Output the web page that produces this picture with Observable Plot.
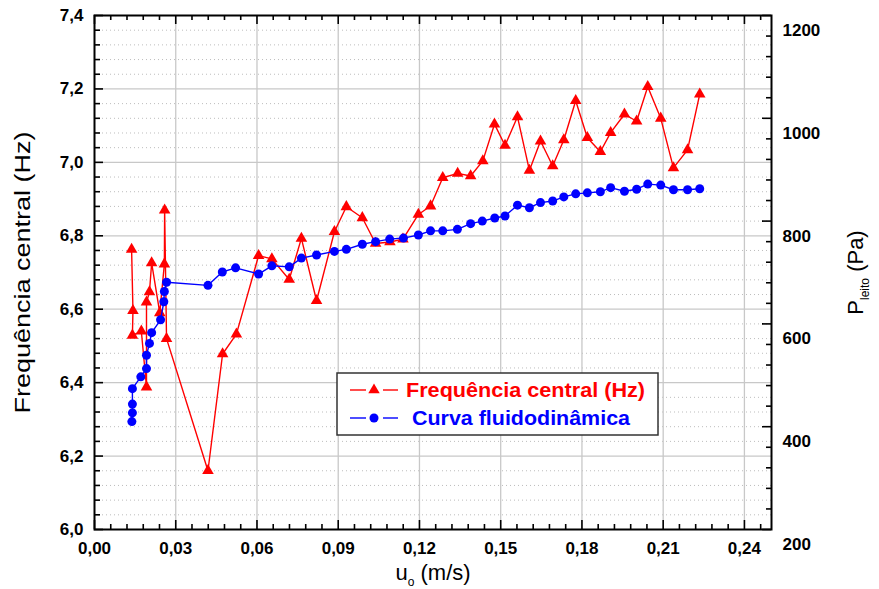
<!DOCTYPE html>
<html><head><meta charset="utf-8">
<script src="https://cdn.jsdelivr.net/npm/d3@7"></script>
<script src="https://cdn.jsdelivr.net/npm/@observablehq/plot@0.6"></script>
<style>
body{margin:0;background:#fff;}
#wrap{position:relative;width:879px;height:589px;font-family:"Liberation Sans",Arial,sans-serif;}
#legend{position:absolute;left:336px;top:372px;}
</style></head><body><div id="wrap"></div>
<script>
// ---- data ----
const uRed = [0.0137,0.0142,0.0140,0.0173,0.0192,0.0192,0.0203,0.0211,0.0241,0.0258,
  0.0259,0.0266,0.0419,0.0473,0.0524,0.0606,0.0655,0.0719,0.0764,0.0820,
  0.0886,0.0930,0.0989,0.1038,0.1091,0.1139,0.1196,0.1241,0.1286,0.1341,
  0.1389,0.1434,0.1477,0.1516,0.1562,0.1606,0.1647,0.1692,0.1733,0.1777,
  0.1820,0.1868,0.1906,0.1957,0.2002,0.2043,0.2091,0.2138,0.2190,0.2235];
const fRed = [6.763,6.596,6.529,6.540,6.388,6.619,6.647,6.726,6.590,6.723,
  6.870,6.520,6.160,6.478,6.532,6.746,6.737,6.681,6.793,6.623,
  6.811,6.879,6.849,6.779,6.783,6.791,6.858,6.881,6.958,6.970,
  6.963,7.004,7.104,7.046,7.124,6.978,7.058,6.990,7.061,7.168,
  7.067,7.029,7.081,7.131,7.112,7.206,7.120,6.985,7.034,7.186];
const uBlue = [0.0138,0.0140,0.0140,0.0140,0.0171,0.0192,0.0192,0.0203,0.0211,0.0244,
  0.0256,0.0258,0.0266,0.0419,0.0472,0.0521,0.0606,0.0655,0.0719,0.0764,
  0.0820,0.0886,0.0930,0.0989,0.1038,0.1090,0.1141,0.1196,0.1241,0.1286,
  0.1340,0.1389,0.1432,0.1478,0.1516,0.1562,0.1606,0.1647,0.1692,0.1733,
  0.1777,0.1820,0.1868,0.1906,0.1957,0.2002,0.2043,0.2091,0.2138,0.2190,0.2235];
const pBlue = [410,427,444,474,497,513,539,562,583,608,
  643,663,681,675,701,709,697,713,711,728,
  734,741,745,755,760,765,767,773,781,781,
  784,795,800,806,810,831,826,836,839,847,
  853,855,857,865,858,862,872,870,861,861,863];

const xTicks = [0,0.03,0.06,0.09,0.12,0.15,0.18,0.21,0.24];
const xTickLabels = ["0,00","0,03","0,06","0,09","0,12","0,15","0,18","0,21","0,24"];
const fTicks = [6.0,6.2,6.4,6.6,6.8,7.0,7.2,7.4];
const fTickLabels = ["6,0","6,2","6,4","6,6","6,8","7,0","7,2","7,4"];
const pTicks = [200,400,600,800,1000,1200];
const pTickLabels = ["200","400","600","800","1000","1200"];

const seriesRed = "Frequência central (Hz)";
const seriesBlue = "Curva fluidodinâmica";
const xTitle = "u|o| (m/s)";
const yTitle = "Frequência central (Hz)";
const y2Title = "P|leito| (Pa)";

// ---- layout ----
const W = 879, H = 589, mL = 94, mR = 108, mT = 15, mB = 60;
const innerW = W - mL - mR, innerH = H - mT - mB;
const F0 = 6.0, F1 = 7.4, P0 = 200, P1 = 1200;
const toY = p => F0 + (p - P0) * (F1 - F0) / (P1 - P0);

const red = uRed.map((u, i) => ({u, f: fRed[i]}));
const blue = uBlue.map((u, i) => ({u, y: toY(pBlue[i])}));

const xMinor = d3.range(0, 42).filter(i => i % 5).map(i => i * 0.006);
const fMinor = d3.range(0, 36).filter(i => i % 5).map(i => F0 + i * 0.04);
const pMinorY = d3.range(0, 26).filter(i => i % 5).map(i => toY(P0 + i * 40));
const pTicksY = pTicks.map(toY);
const fGrid = fTicks.slice(1, -1);
const xGrid = xTicks.slice(1);

const tk = {stroke: "black", strokeWidth: 1.6};
const lbl = {fontSize: 17, fontWeight: "bold", fill: "black", label: null};

const chart = Plot.plot({
  width: W, height: H,
  marginLeft: mL, marginRight: mR, marginTop: mT, marginBottom: mB,
  style: {fontFamily: '"Liberation Sans", Arial, sans-serif', background: "white", overflow: "visible"},
  x: {domain: [0, 0.25], axis: null, label: null},
  y: {domain: [F0, F1], axis: null, label: null},
  marks: [
    Plot.gridY(fMinor, {stroke: "#bdbdbd", strokeOpacity: 1, strokeWidth: 1, strokeDasharray: "1,3"}),
    Plot.gridY(fGrid, {stroke: "#c8c8c8", strokeOpacity: 1, strokeWidth: 1.3}),
    Plot.gridX(xGrid, {stroke: "#c8c8c8", strokeOpacity: 1, strokeWidth: 1.3}),
    Plot.line(red, {x: "u", y: "f", stroke: "#ff0000", strokeWidth: 1.4}),
    Plot.dot(red, {x: "u", y: "f", symbol: "triangle", r: 4.3, fill: "#ff0000", stroke: "none"}),
    Plot.line(blue, {x: "u", y: "y", stroke: "#0000ff", strokeWidth: 1.4}),
    Plot.dot(blue, {x: "u", y: "y", symbol: "circle", r: 4.5, fill: "#0000ff", stroke: "none"}),
    // ticks (inward)
    Plot.tickX(xMinor, {x: d => d, insetTop: innerH - 5, ...tk}),
    Plot.tickX(xTicks, {x: d => d, insetTop: innerH - 9, ...tk}),
    Plot.tickX(xMinor, {x: d => d, insetBottom: innerH - 5, ...tk}),
    Plot.tickX(xTicks, {x: d => d, insetBottom: innerH - 9, ...tk}),
    Plot.tickY(fMinor, {y: d => d, insetRight: innerW - 6, ...tk}),
    Plot.tickY(fTicks, {y: d => d, insetRight: innerW - 9, ...tk}),
    Plot.tickY(pMinorY, {y: d => d, insetLeft: innerW - 5, ...tk}),
    Plot.tickY(pTicksY, {y: d => d, insetLeft: innerW - 9, ...tk}),
    Plot.frame({stroke: "black", strokeWidth: 2}),
    // tick labels
    Plot.axisX(xTicks, {anchor: "bottom", tickSize: 0, tickPadding: 12, tickFormat: d => xTickLabels[xTicks.indexOf(d)], ...lbl}),
    Plot.axisY(fTicks, {anchor: "left", tickSize: 0, tickPadding: 11, tickFormat: d => fTickLabels[fTicks.indexOf(d)], ...lbl}),
    Plot.axisY(pTicksY, {anchor: "right", tickSize: 0, tickPadding: 11, dy: 15, tickFormat: d => pTickLabels[pTicksY.indexOf(d)], ...lbl}),
    // titles
    Plot.text([yTitle], {text: d => d, frameAnchor: "left", dx: -72, rotate: -90, fontSize: 22, lineAnchor: "middle", textAnchor: "middle"}),
    Plot.text([y2Title], {text: d => d, frameAnchor: "right", dx: 84, rotate: -90, fontSize: 22, lineAnchor: "middle", textAnchor: "middle"}),
    Plot.text([xTitle], {text: d => d, frameAnchor: "bottom", dy: 43, fontSize: 22, lineAnchor: "middle", textAnchor: "middle"})
  ]
});
document.getElementById("wrap").appendChild(chart);

// subscripts in titles written as "a|sub|b"; stretch the long title as in the reference
d3.select(chart).selectAll("text").each(function() {
  const t = d3.select(this);
  const s = this.textContent;
  if (s.includes("|")) {
    const [a, sub, b] = s.split("|");
    t.text(null);
    t.append("tspan").text(a);
    t.append("tspan").attr("font-size", 12).attr("dy", 6).text(sub);
    t.append("tspan").attr("dy", -6).text(b);
  } else if (s === yTitle) {
    t.attr("textLength", 282).attr("lengthAdjust", "spacingAndGlyphs");
  }
});

// legend box
const lg = d3.select("#wrap").append("svg").attr("id", "legend")
  .attr("width", 324).attr("height", 64);
lg.append("rect").attr("x", 1).attr("y", 1).attr("width", 321).attr("height", 62)
  .attr("fill", "white").attr("stroke", "#333").attr("stroke-width", 1.5);
const rows = [
  {name: seriesRed, color: "#ff0000", sym: d3.symbolTriangle, size: Math.PI * 18, y: 18, tx: 70, len: 239},
  {name: seriesBlue, color: "#0000ff", sym: d3.symbolCircle, size: Math.PI * 20.25, y: 46, tx: 76, len: 218}
];
rows.forEach(r => {
  lg.append("line").attr("x1", 14).attr("x2", 30).attr("y1", r.y).attr("y2", r.y).attr("stroke", r.color).attr("stroke-width", 1.4);
  lg.append("line").attr("x1", 47).attr("x2", 62).attr("y1", r.y).attr("y2", r.y).attr("stroke", r.color).attr("stroke-width", 1.4);
  lg.append("path").attr("d", d3.symbol(r.sym, r.size)()).attr("transform", `translate(38,${r.y})`).attr("fill", r.color);
  lg.append("text").attr("x", r.tx).attr("y", r.y + 7).attr("fill", r.color)
    .attr("font-size", 20.5).attr("font-weight", "bold")
    .attr("textLength", r.len).attr("lengthAdjust", "spacingAndGlyphs")
    .attr("font-family", '"Liberation Sans", Arial, sans-serif').text(r.name);
});
</script></body></html>
